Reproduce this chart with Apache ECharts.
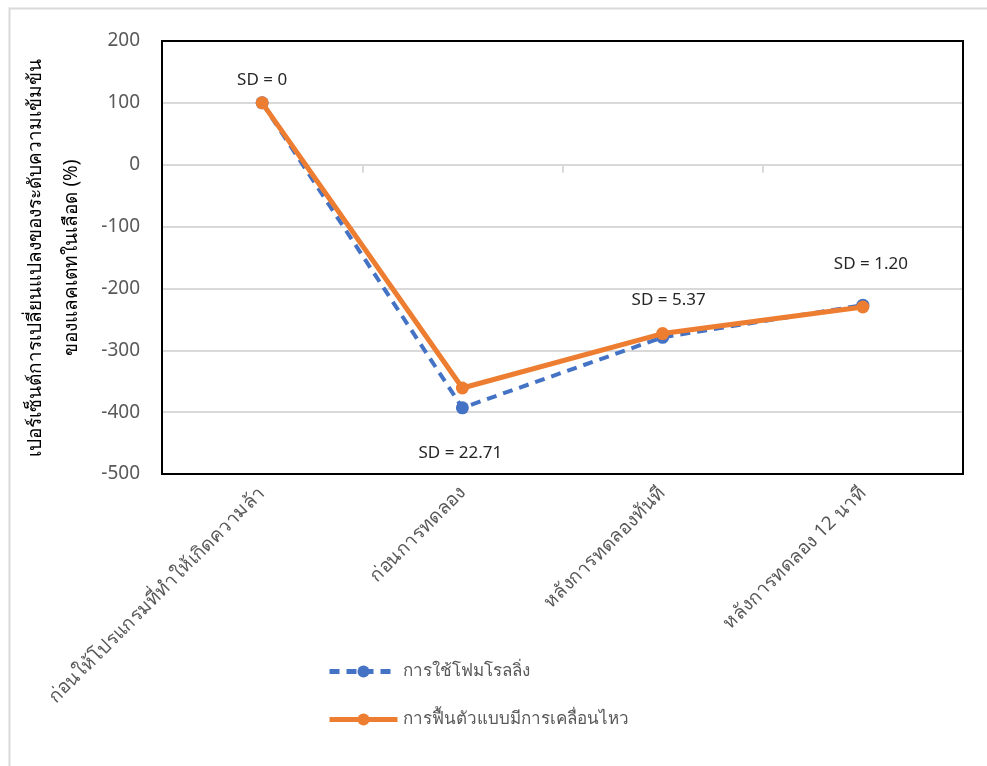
<!DOCTYPE html>
<html>
<head>
<meta charset="utf-8">
<script src="https://cdn.jsdelivr.net/npm/echarts@6/dist/echarts.min.js"></script>
<style>
  html, body { margin: 0; padding: 0; background: #fff; }
  #box { width: 987px; height: 766px; }
</style>
</head>
<body>
<div id="box"></div>
<script>
// categories (x axis)
var categories = ["ก่อนให้โปรแกรมที่ทำให้เกิดความล้า", "ก่อนการทดลอง", "หลังการทดลองทันที", "หลังการทดลอง 12 นาที"];
// series values (%)
var foamRolling = [100, -393, -279, -227];
var activeRecovery = [100, -361, -273, -230];
var seriesNames = ["การใช้โฟมโรลลิ่ง", "การฟื้นตัวแบบมีการเคลื่อนไหว"];
// SD labels per point
var sdLabels = ["SD = 0", "SD = 22.71", "SD = 5.37", "SD = 1.20"];
// y axis ticks
var yMin = -500, yMax = 200, yStep = 100;

var font = "'Noto Sans', sans-serif";
var grey = "#595959";

// where each SD label sits: which series and which side
var labelPlace = [
  { series: 1, position: "top", distance: 8, offset: [0, 0] },
  { series: 0, position: "bottom", distance: 30, offset: [-2, 0] },
  { series: 1, position: "top", distance: 18, offset: [6, 0] },
  { series: 1, position: "top", distance: 28, offset: [8, 0] }
];

function buildData(values, idx) {
  return values.map(function (v, i) {
    var p = labelPlace[i];
    if (p.series !== idx) return v;
    return {
      value: v,
      label: {
        show: true,
        formatter: sdLabels[i],
        position: p.position,
        distance: p.distance,
        offset: p.offset,
        color: "#262626",
        fontSize: 17,
        fontFamily: font
      }
    };
  });
}

var myChart = echarts.init(document.getElementById("box"));
var option = {
  backgroundColor: "#fff",
  animation: false,
  graphic: [{
    type: "rect",
    shape: { x: 9.5, y: 8.5, width: 1000, height: 800 },
    style: { fill: "none", stroke: "#d9d9d9", lineWidth: 2 },
    silent: true
  }, {
    // plot frame (drawn on top of the grid lines)
    type: "rect",
    shape: { x: 162, y: 41, width: 801, height: 433 },
    style: { fill: "none", stroke: "#000", lineWidth: 2 },
    z: 100,
    silent: true
  }],
  grid: {
    left: 162, right: 24, top: 41, bottom: 292,
    outerBoundsMode: "none",
    show: false
  },
  legend: {
    orient: "vertical",
    left: 322, top: 658,
    itemWidth: 68, itemHeight: 15, itemGap: 31,
    lineStyle: { width: 5 },
    textStyle: { color: grey, fontSize: 17, fontFamily: font },
    data: seriesNames
  },
  xAxis: [{
    type: "category",
    data: categories,
    position: "bottom",
    axisLine: { show: false, onZero: false },
    axisTick: { show: false },
    axisLabel: { interval: 0, rotate: 45, margin: 16, color: grey, fontSize: 19, fontFamily: font }
  }, {
    type: "category",
    data: categories,
    position: "bottom",
    axisLine: { show: true, onZero: true, lineStyle: { color: "#d9d9d9", width: 2 } },
    axisTick: { show: true, interval: 0, length: 8, lineStyle: { color: "#d9d9d9", width: 2 } },
    axisLabel: { show: false }
  }],
  yAxis: {
    type: "value",
    min: yMin, max: yMax, interval: yStep,
    name: "เปอร์เซ็นต์การเปลี่ยนแปลงของระดับความเข้มข้น\nของแลคเตทในเลือด (%)",
    nameLocation: "middle",
    nameRotate: 90,
    nameGap: 72,
    nameTextStyle: { color: "#000", fontSize: 19, fontWeight: "normal", lineHeight: 36, fontFamily: font },
    axisLine: { show: false },
    axisTick: { show: false },
    axisLabel: { color: grey, fontSize: 19, margin: 22, fontFamily: font },
    splitLine: { showMinLine: false, showMaxLine: false, lineStyle: { color: "#d9d9d9", width: 2 } }
  },
  series: [{
    name: seriesNames[0],
    type: "line",
    data: buildData(foamRolling, 0),
    symbol: "circle",
    symbolSize: 13,
    itemStyle: { color: "#4472C4" },
    lineStyle: { color: "#4472C4", width: 4, type: [10, 7] },
    z: 2
  }, {
    name: seriesNames[1],
    type: "line",
    data: buildData(activeRecovery, 1),
    symbol: "circle",
    symbolSize: 13,
    itemStyle: { color: "#ED7D31" },
    lineStyle: { color: "#ED7D31", width: 5 },
    z: 3
  }]
};
myChart.setOption(option);
</script>
</body>
</html>
